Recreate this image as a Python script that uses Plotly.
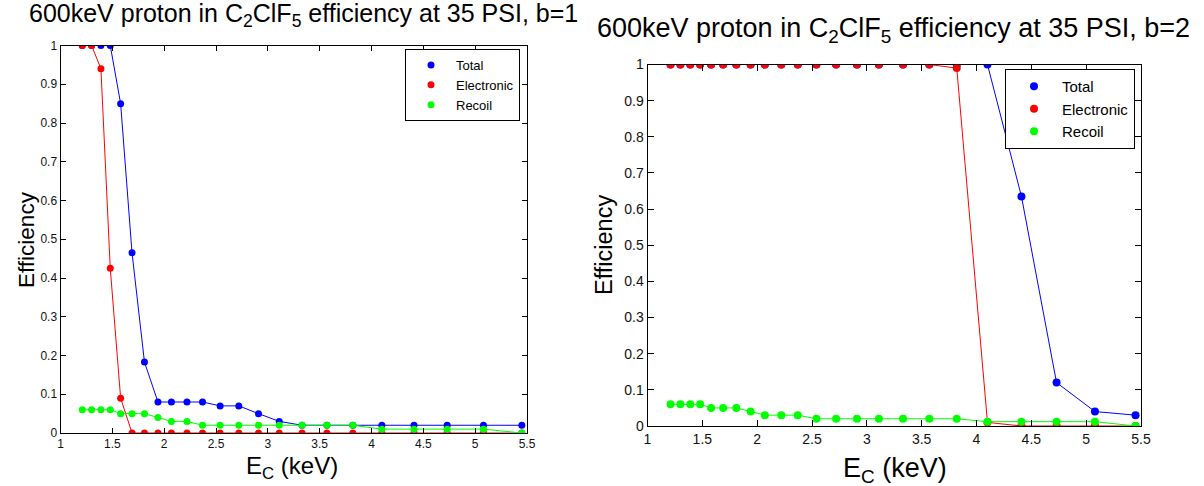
import plotly.graph_objects as go

# Threshold energy E_C (keV), shared by both scans
energy = [1.21, 1.30, 1.39, 1.48, 1.58, 1.69, 1.81, 1.94, 2.07, 2.22, 2.37, 2.54,
          2.72, 2.91, 3.11, 3.33, 3.57, 3.82, 4.10, 4.41, 4.73, 5.08, 5.45]

# b = 1
total_b1 = [1.0, 1.0, 1.0, 1.0, 0.85, 0.465, 0.183, 0.08, 0.08, 0.08, 0.08, 0.07,
            0.07, 0.05, 0.03, 0.02, 0.02, 0.02, 0.02, 0.02, 0.02, 0.02, 0.02]
electronic_b1 = [1.0, 1.0, 0.94, 0.425, 0.09, 0.0, 0.0, 0.0, 0.0, 0.0, 0.0, 0.0,
                 0.0, 0.0, 0.0, 0.0, 0.0, 0.0, 0.0, 0.0, 0.0, 0.0, 0.0]
recoil_b1 = [0.06, 0.06, 0.06, 0.06, 0.05, 0.05, 0.05, 0.04, 0.03, 0.03, 0.02, 0.02,
             0.02, 0.02, 0.02, 0.02, 0.02, 0.02, 0.01, 0.01, 0.01, 0.01, 0.0]

# b = 2
total_b2 = [1.0, 1.0, 1.0, 1.0, 1.0, 1.0, 1.0, 1.0, 1.0, 1.0, 1.0, 1.0,
            1.0, 1.0, 1.0, 1.0, 1.0, 1.0, 1.0, 0.635, 0.12, 0.04, 0.03]
electronic_b2 = [1.0, 1.0, 1.0, 1.0, 1.0, 1.0, 1.0, 1.0, 1.0, 1.0, 1.0, 1.0,
                 1.0, 1.0, 1.0, 1.0, 1.0, 0.99, 0.01, 0.0, 0.0, 0.0, 0.0]
recoil_b2 = [0.06, 0.06, 0.06, 0.06, 0.05, 0.05, 0.05, 0.04, 0.03, 0.03, 0.03, 0.02,
             0.02, 0.02, 0.02, 0.02, 0.02, 0.02, 0.012, 0.012, 0.012, 0.012, 0.0]

series_names = ["Total", "Electronic", "Recoil"]
series_colors = ["#0000FF", "#FF0000", "#00FF00"]

FONT = "Liberation Sans, Arial, sans-serif"
W, H = 1204, 486

fig = go.Figure()


def add_panel(values, xref, yref, legend_name, msize):
    for name, color, ys in zip(series_names, series_colors, values):
        fig.add_trace(go.Scatter(
            x=energy, y=ys, mode="lines", xaxis=xref, yaxis=yref,
            line=dict(color=color, width=1), showlegend=False, hoverinfo="skip"))
        fig.add_trace(go.Scatter(
            x=energy, y=ys, mode="markers", name=name, xaxis=xref, yaxis=yref,
            marker=dict(color=color, size=msize, symbol="circle", line=dict(width=0)),
            legend=legend_name))


add_panel([total_b1, electronic_b1, recoil_b1], "x", "y", "legend", 7)
add_panel([total_b2, electronic_b2, recoil_b2], "x2", "y2", "legend2", 8)


def axis_style(domain, anchor, rng, dtick, tick0, tick_size, ticklen):
    return dict(domain=domain, anchor=anchor, range=rng, dtick=dtick, tick0=tick0,
                automargin=False,
                showline=True, linecolor="black", linewidth=1, mirror="ticks",
                ticks="inside", ticklen=ticklen, tickcolor="black",
                showgrid=False, zeroline=False,
                tickfont=dict(family=FONT, size=tick_size, color="#111"))


def legend_style(right_px, top_px, size, itemwidth):
    return dict(x=right_px / W, y=1 - top_px / H, xanchor="right", yanchor="top",
                bordercolor="black", borderwidth=1, bgcolor="white",
                font=dict(family=FONT, size=size, color="black"),
                itemwidth=itemwidth, tracegroupgap=0)


fig.update_layout(
    template="none",
    width=W, height=H,
    margin=dict(l=0, r=0, t=0, b=0, pad=0, autoexpand=False),
    paper_bgcolor="white", plot_bgcolor="white",
    xaxis=axis_style([60.5 / W, 527 / W], "y", [1, 5.5], 0.5, 1, 12, 5),
    yaxis=axis_style([1 - 433 / H, 1 - 45.5 / H], "x", [0, 1], 0.1, 0, 12, 5),
    xaxis2=axis_style([647.5 / W, 1141 / W], "y2", [1, 5.5], 0.5, 1, 14, 6),
    yaxis2=axis_style([1 - 426 / H, 1 - 64.5 / H], "x2", [0, 1], 0.1, 0, 14, 6),
    legend=legend_style(520, 49, 13, 40),
    legend2=legend_style(1135, 69, 15, 46),
)

annotations = [
    dict(text="600keV proton in C<sub>2</sub>ClF<sub>5</sub> efficiency at 35 PSI, b=1",
         x=303, y=15, size=25),
    dict(text="600keV proton in C<sub>2</sub>ClF<sub>5</sub> efficiency at 35 PSI, b=2",
         x=893, y=30, size=27),
    dict(text="E<sub>C</sub> (keV)", x=292, y=467, size=24),
    dict(text="E<sub>C</sub> (keV)", x=895, y=470, size=27),
]
for a in annotations:
    fig.add_annotation(
        text=a["text"], x=a["x"] / W, y=1 - a["y"] / H, xref="paper", yref="paper",
        xanchor="center", yanchor="middle", showarrow=False,
        font=dict(family=FONT, size=a["size"], color="black"))

for x_px, y_px, size in [(26, 240, 22.5), (604, 245, 23.5)]:
    fig.add_annotation(
        text="Efficiency", x=x_px / W, y=1 - y_px / H, xref="paper", yref="paper",
        xanchor="center", yanchor="middle", showarrow=False, textangle=-90,
        font=dict(family=FONT, size=size, color="black"))

fig.write_html("out.html")
